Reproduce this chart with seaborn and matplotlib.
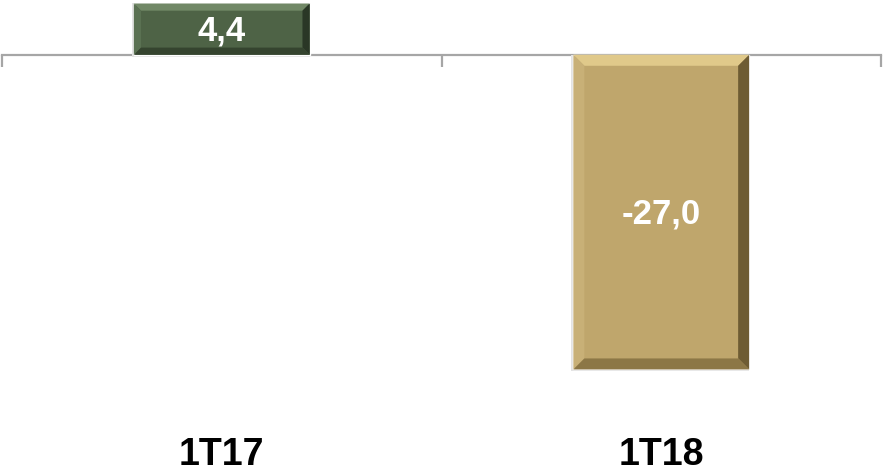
import matplotlib
matplotlib.use("Agg")
import matplotlib.pyplot as plt
import matplotlib.transforms as mtransforms
from matplotlib.patches import Polygon
import pandas as pd
import seaborn as sns

# ── Dados ────────────────────────────────────────────────────────────────────
periodos = ["1T17", "1T18"]
valores = [4.4, -27.0]
cores = ["#4e6346", "#bfa66c"]

# faces do chanfro: topo, esquerda, direita, base
faces = {
    "#4e6346": ["#718866", "#5a7152", "#2a3726", "#35442f"],
    "#bfa66c": ["#e0c98a", "#c8b077", "#6e5c33", "#8c7746"],
}

sns.set_theme(style="white")
plt.rcParams["font.family"] = ["Liberation Sans", "DejaVu Sans"]

df = pd.DataFrame({"periodo": periodos, "valor": valores})

fig = plt.figure(figsize=(8.85, 4.72), dpi=100)
ax = fig.add_axes([2 / 885, 0, 879 / 885, 1])

sns.barplot(data=df, x="periodo", y="valor", hue="periodo", palette=cores,
            width=0.4, legend=False, ax=ax, saturation=1, zorder=2)

ax.set_xlim(-0.5, 1.5)
ax.set_ylim(-35.8, 4.7)

# eixo no zero, ticks nas divisões das categorias
for s in ["top", "right", "left"]:
    ax.spines[s].set_visible(False)
ax.spines["bottom"].set_position(("data", 0))
ax.spines["bottom"].set_color("#a6a6a6")
ax.spines["bottom"].set_linewidth(1.6)
ax.spines["bottom"].set_zorder(1)
ax.set_xticks([-0.5, 0.5, 1.5])
ax.set_xticklabels([])
ax.tick_params(axis="x", direction="out", length=8.5, width=1.6, color="#a6a6a6",
               bottom=True)
ax.set_yticks([])
ax.set_xlabel("")
ax.set_ylabel("")

# chanfro nas barras
fig.canvas.draw()
inv = ax.transData.inverted()
for patch, cor in zip(ax.patches, cores):
    bb = patch.get_window_extent()
    x0, y0, x1, y1 = bb.x0, bb.y0, bb.x1, bb.y1
    b = min(11, 0.14 * (y1 - y0))
    ox0, oy0, ox1, oy1 = x0 + b, y0 + b, x1 - b, y1 - b
    quads = [
        [(x0, y1), (x1, y1), (ox1, oy1), (ox0, oy1)],   # topo
        [(x0, y0), (x0, y1), (ox0, oy1), (ox0, oy0)],   # esquerda
        [(x1, y0), (x1, y1), (ox1, oy1), (ox1, oy0)],   # direita
        [(x0, y0), (x1, y0), (ox1, oy0), (ox0, oy0)],   # base
    ]
    for q, fc in zip(quads, faces[cor]):
        pts = inv.transform(q)
        ax.add_patch(Polygon(pts, closed=True, facecolor=fc, edgecolor="none", zorder=3))
    # sombra leve
    sh = inv.transform([(x0 - 2, y0 - 2), (x1, y1)])
    ax.add_patch(plt.Rectangle(sh[0], sh[1][0] - sh[0][0], sh[1][1] - sh[0][1],
                               facecolor="#e3e3e3", edgecolor="none", zorder=1.5))

# rótulos de valor
for i, v in enumerate(valores):
    txt = f"{v:.1f}".replace(".", ",")
    ax.text(i, v / 2 - 0.15, txt, ha="center", va="center", color="white",
            fontsize=25, fontweight="bold", zorder=5)

# rótulos das categorias
trans = mtransforms.blended_transform_factory(ax.transData, ax.transAxes)
for i, p in enumerate(periodos):
    ax.text(i, 0.036, p, transform=trans, ha="center", va="center",
            fontsize=27, fontweight="bold", color="black")

fig.savefig("out.png", dpi=100, facecolor="white")
